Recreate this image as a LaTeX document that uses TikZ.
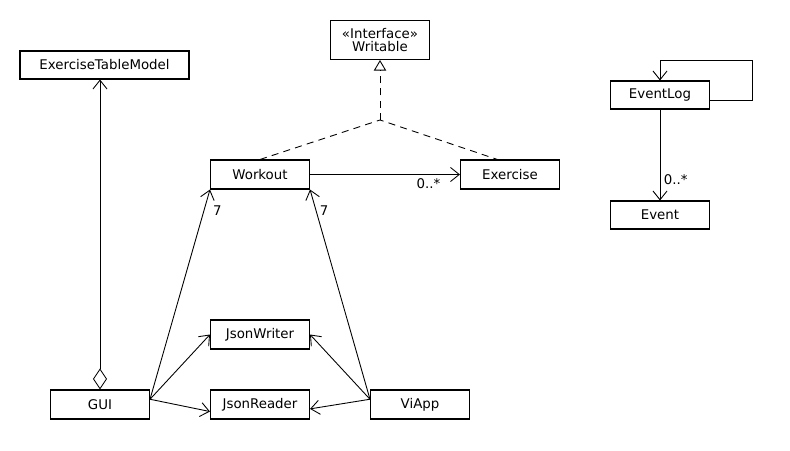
\documentclass[tikz,border=0pt]{standalone}
\usepackage{fontspec}
\setmainfont{DejaVu Sans}
\usetikzlibrary{arrows.meta}
\begin{document}
\begin{tikzpicture}[x=0.02cm, y=-0.02cm,
        font=\fontsize{7.6}{9}\selectfont,
        cls/.style={draw, line width=0.6pt, minimum width=1.98cm, minimum height=0.58cm, inner sep=1pt},
        assoc/.style={-{Straight Barb[length=5pt, width=8pt]}, line width=0.5pt},
        realize/.style={dashed, dash pattern=on 4pt off 3pt, line width=0.5pt},
        mult/.style={inner sep=2pt}]
            \useasboundingbox (0,0) rectangle (790,450);

            %Clases
            \node[cls, minimum width=3.38cm, minimum height=0.56cm] (ETM) at (104.5,65) {ExerciseTableModel};
            \node[cls, minimum height=0.78cm, align=center] (Writable) at (380,40) {«Interface»\\[-2pt]Writable};
            \node[cls] (Workout) at (260,174.5) {Workout};
            \node[cls] (Exercise) at (510,174.5) {Exercise};
            \node[cls] (JsonWriter) at (260,334.5) {JsonWriter};
            \node[cls] (JsonReader) at (260,404.5) {JsonReader};
            \node[cls] (GUI) at (100,404.5) {GUI};
            \node[cls] (ViApp) at (420,404.5) {ViApp};
            \node[cls, minimum height=0.56cm] (EventLog) at (660,95) {EventLog};
            \node[cls, minimum height=0.56cm] (Event) at (660,215) {Event};

            %Interfaz
            \coordinate (junc) at (380,120);
            \draw[realize] (Workout.north) -- (junc) -- (Exercise.130);
            \draw[realize, -{Triangle[open, length=6pt, width=7pt]}] (junc) -- (Writable.south);

            %Asociaciones
            \draw[assoc] (Workout.east) -- (Exercise.west)
                node[mult, pos=0.79, below] {0..*};
            \draw[assoc, {Diamond[open, length=12pt, width=8pt]}-{Straight Barb[length=5pt, width=8pt]}]
                (GUI.north) -- (GUI.north |- ETM.south);

            %GUI
            \draw[assoc] (GUI.6) -- (Workout.south west)
                node[mult, pos=0.9, right=3pt] {7};
            \draw[assoc] (GUI.6) -- (JsonWriter.west);
            \draw[assoc] (GUI.6) -- (JsonReader.188);

            %ViApp
            \draw[assoc] (ViApp.174) -- (Workout.south east)
                node[mult, pos=0.9, right] {7};
            \draw[assoc] (ViApp.174) -- (JsonWriter.east);
            \draw[assoc] (ViApp.174) -- (JsonReader.-5);

            %EventLog
            \draw[assoc] (EventLog.-6) -| ++(42,-40) -| (EventLog.north);
            \draw[assoc] (EventLog.south) -- (Event.north)
                node[mult, pos=0.77, right] {0..*};
        \end{tikzpicture}
\end{document}
